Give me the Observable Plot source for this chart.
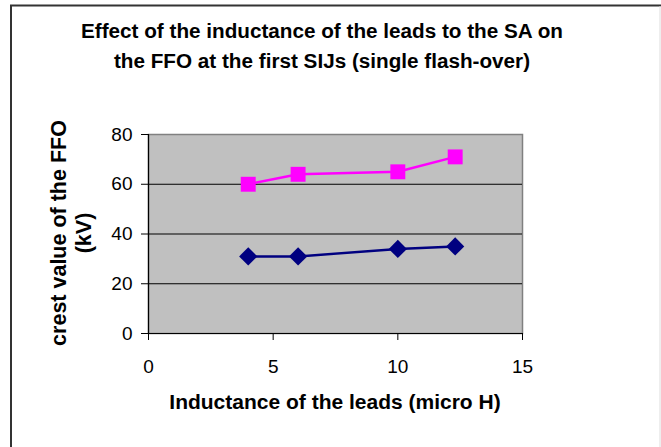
<!DOCTYPE html>
<html>
<head>
<meta charset="utf-8">
<script src="https://cdn.jsdelivr.net/npm/d3@7"></script>
<script src="https://cdn.jsdelivr.net/npm/@observablehq/plot@0.6"></script>
<style>
  html, body { margin: 0; padding: 0; background: #fff; }
  svg { display: block; }
</style>
</head>
<body>
<div id="chart"></div>
<script>
const inductance = [4, 6, 10, 12.3];
const seriesPink = [60, 64, 65, 71];
const seriesNavy = [31, 31, 34, 35];
const xTicks = [0, 5, 10, 15];
const yTicks = [0, 20, 40, 60, 80];
const titleLines = ["Effect of the inductance of the leads to the SA on", "the FFO at the first SIJs (single flash-over)"];
const yLabelLines = ["crest value of the FFO", "(kV)"];
const xLabel = "Inductance of the leads (micro H)";

const pink = inductance.map((x, i) => ({x, y: seriesPink[i]}));
const navy = inductance.map((x, i) => ({x, y: seriesNavy[i]}));

const W = 661, H = 447;
const mL = 148, mR = 139, mT = 134, mB = 114;
const tf = "Liberation Sans, Arial, sans-serif";

const plot = Plot.plot({
  width: W, height: H,
  marginLeft: mL, marginRight: mR, marginTop: mT, marginBottom: mB,
  style: {fontFamily: tf, fontSize: "19px", background: "white", overflow: "visible"},
  x: {domain: [0, 15], ticks: xTicks, label: null},
  y: {domain: [0, 80], ticks: yTicks, label: null},
  marks: [
    Plot.frame({fill: "#C0C0C0", stroke: "#808080", strokeWidth: 1.5}),
    Plot.gridY(yTicks.filter(t => t > 0 && t < 80), {stroke: "#000", strokeOpacity: 1, strokeWidth: 1}),
    Plot.axisX({ticks: xTicks, tickSize: 7, tickPadding: 19, fontSize: 19, fill: "#000", stroke: "#000", label: null}),
    Plot.axisY({ticks: yTicks, tickSize: 7, tickPadding: 9, fontSize: 19, fill: "#000", stroke: "#000", label: null}),
    Plot.ruleX([0], {stroke: "#000", strokeWidth: 1.2}),
    Plot.ruleY([0], {stroke: "#000", strokeWidth: 1.2}),
    Plot.line(navy, {x: "x", y: "y", stroke: "#000080", strokeWidth: 2.5}),
    Plot.dot(navy, {x: "x", y: "y", symbol: "diamond2", r: 8.2, fill: "#000080", stroke: "none"}),
    Plot.line(pink, {x: "x", y: "y", stroke: "#FF00FF", strokeWidth: 2.5}),
    Plot.dot(pink, {x: "x", y: "y", symbol: "square2", r: 9.5, fill: "#FF00FF", stroke: "none"})
  ]
});

const svg = d3.select(plot);
// outer chart border
svg.insert("rect", ":first-child")
  .attr("x", 11).attr("y", 5.5).attr("width", 700).attr("height", 500)
  .attr("fill", "white").attr("stroke", "#333").attr("stroke-width", 2);
svg.append("line").attr("x1", 660).attr("x2", 660).attr("y1", 6).attr("y2", H)
  .attr("stroke", "#ddd").attr("stroke-width", 1);

const t = svg.append("text").attr("text-anchor", "middle")
  .attr("font-family", tf).attr("font-weight", "bold").attr("font-size", 20.7).attr("fill", "#000");
titleLines.forEach((s, i) => t.append("tspan").attr("x", 322).attr("y", 38 + i * 30).text(s));

const yl = svg.append("text").attr("text-anchor", "middle")
  .attr("transform", "translate(0,233) rotate(-90)")
  .attr("font-family", tf).attr("font-weight", "bold").attr("font-size", 21.5).attr("fill", "#000");
yLabelLines.forEach((s, i) => yl.append("tspan").attr("x", 0).attr("y", 66 + i * 25).text(s));

svg.append("text").attr("text-anchor", "middle")
  .attr("x", 335).attr("y", 409)
  .attr("font-family", tf).attr("font-weight", "bold").attr("font-size", 21).attr("fill", "#000")
  .text(xLabel);

document.getElementById("chart").appendChild(plot);
</script>
</body>
</html>
